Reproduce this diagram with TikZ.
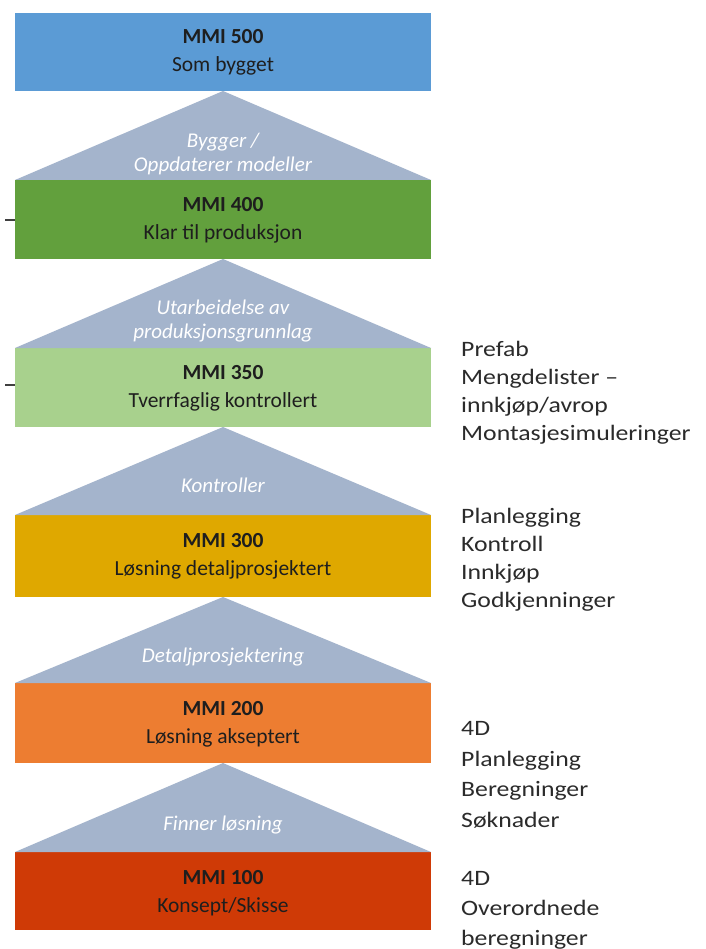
\documentclass[tikz,border=0pt]{standalone}
\usepackage{fontspec}
\usepackage{graphicx}
\setmainfont{Carlito}
\definecolor{lvlblue}{HTML}{5B9BD5}
\definecolor{lvldkgreen}{HTML}{62A03D}
\definecolor{lvlltgreen}{HTML}{A8D18D}
\definecolor{lvlgold}{HTML}{DFA800}
\definecolor{lvlorange}{HTML}{ED7D31}
\definecolor{lvlred}{HTML}{CF3A06}
\definecolor{stepgray}{HTML}{A4B4CC}
\definecolor{inktext}{HTML}{1E1E1E}
\definecolor{sidetext}{HTML}{2B2B2B}
% slightly widened lettering for the activity lists
\newcommand\sidew[1]{\scalebox{1.17}[1]{#1}}
\begin{document}
\begin{tikzpicture}[x=1pt,y=-1pt,
  leveltext/.style={align=center, text=inktext, font=\fontsize{21.5}{28}\selectfont, inner sep=0pt, anchor=base},
  steptri/.style={fill=stepgray, draw=none},
  steptext/.style={align=center, text=white, font=\fontsize{21}{24}\selectfont\itshape, inner sep=0pt, anchor=base},
  sidelist/.style={align=left, text=sidetext, inner sep=0pt, anchor=base west},
  tick/.style={draw=black!75, line width=1.2pt}]
\useasboundingbox (0,0) rectangle (705,949);
\fill[white] (0,0) rectangle (705,949);

% level boxes (x from 15 to 431)
\fill[lvlblue]     (15,13)  rectangle (431,91);
\fill[lvldkgreen]  (15,180) rectangle (431,259);
\fill[lvlltgreen]  (15,348) rectangle (431,427);
\fill[lvlgold]     (15,515) rectangle (431,597);
\fill[lvlorange]   (15,683) rectangle (431,763);
\fill[lvlred]      (15,852) rectangle (431,930);

% transition triangles between levels
\fill[steptri] (223,91)  -- (431,180) -- (15,180) -- cycle;
\fill[steptri] (223,259) -- (431,348) -- (15,348) -- cycle;
\fill[steptri] (223,427) -- (431,515) -- (15,515) -- cycle;
\fill[steptri] (223,597) -- (431,683) -- (15,683) -- cycle;
\fill[steptri] (223,763) -- (431,852) -- (15,852) -- cycle;

% small ticks at the left edge
\coordinate (t1a) at (5,220); \coordinate (t1b) at (15,220);
\coordinate (t2a) at (5,385); \coordinate (t2b) at (15,385);
\draw[tick] (t1a) -- (t1b);
\draw[tick] (t2a) -- (t2b);

% level labels (anchored at the baseline of the second line)
\node[leveltext] (m500) at (223,72)  {\textbf{MMI 500}\\Som bygget};
\node[leveltext] (m400) at (223,240) {\textbf{MMI 400}\\Klar til produksjon};
\node[leveltext] (m350) at (223,407) {\textbf{MMI 350}\\Tverrfaglig kontrollert};
\node[leveltext] (m300) at (223,575) {\textbf{MMI 300}\\Løsning detaljprosjektert};
\node[leveltext] (m200) at (223,743) {\textbf{MMI 200}\\Løsning akseptert};
\node[leveltext] (m100) at (223,912) {\textbf{MMI 100}\\Konsept/Skisse};

% transition labels
\node[steptext] (s1) at (223,172) {Bygger /\\Oppdaterer modeller};
\node[steptext] (s2) at (223,338) {Utarbeidelse av\\produksjonsgrunnlag};
\node[steptext] (s3) at (223,492) {Kontroller};
\node[steptext] (s4) at (223,662) {Detaljprosjektering};
\node[steptext] (s5) at (223,830) {Finner løsning};

% activity lists on the right (anchored at the baseline of the last line)
\node[sidelist, font=\fontsize{22}{27.7}\selectfont] (a350) at (461,440)
  {\sidew{Prefab}\\\sidew{Mengdelister –}\\\sidew{innkjøp/avrop}\\\sidew{Montasjesimuleringer}};
\node[sidelist, font=\fontsize{22}{27.7}\selectfont] (a300) at (461,607)
  {\sidew{Planlegging}\\\sidew{Kontroll}\\\sidew{Innkjøp}\\\sidew{Godkjenninger}};
\node[sidelist, font=\fontsize{22}{30.5}\selectfont] (a200) at (461,827)
  {\sidew{4D}\\\sidew{Planlegging}\\\sidew{Beregninger}\\\sidew{Søknader}};
\node[sidelist, font=\fontsize{22}{30}\selectfont] (a100) at (461,945)
  {\sidew{4D}\\\sidew{Overordnede}\\\sidew{beregninger}};
\end{tikzpicture}
\end{document}
